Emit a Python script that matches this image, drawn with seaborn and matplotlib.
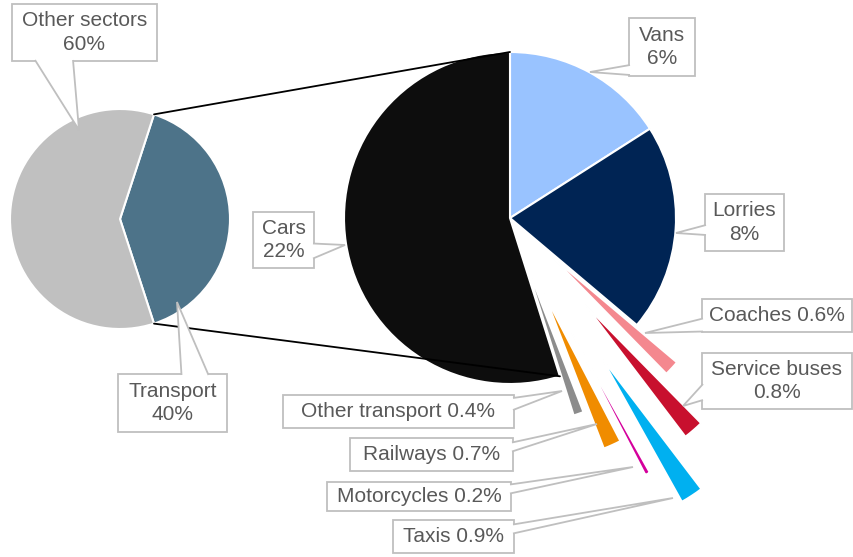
import numpy as np
import matplotlib
matplotlib.use("Agg")
import matplotlib.pyplot as plt
from matplotlib.patches import Rectangle, Polygon
import seaborn as sns

# Data: share of emissions (%)
sectors = ["Transport", "Other sectors"]
sector_share = [40, 60]
sector_colors = ["#4d7389", "#c0c0c0"]

modes = ["Vans", "Lorries", "Coaches", "Service buses", "Taxis",
         "Motorcycles", "Railways", "Other transport", "Cars"]
mode_share = [6.4, 8.1, 0.6, 0.8, 0.9, 0.2, 0.7, 0.4, 22]
mode_colors = ["#99c3ff", "#002454", "#f4888f", "#c8102e", "#00b0f0",
               "#d4009c", "#f08c00", "#8c8c8c", "#0d0d0d"]
# how far the small slices are pulled out (fraction of radius)
mode_explode = [0, 0, 0.33, 0.69, 1.0, 0.75, 0.5, 0.25, 0]
two_line = {"Vans", "Lorries", "Service buses", "Cars", "Transport", "Other sectors"}

W, H = 854, 557

# callout boxes in pixels (x0, x1, y0, y1), origin top-left
boxes = {
    "Other sectors": (12, 157, 4, 61),
    "Transport": (118, 227, 374, 432),
    "Vans": (629, 695, 18, 76),
    "Lorries": (705, 784, 194, 251),
    "Cars": (253, 314, 212, 268),
    "Coaches": (702, 852, 299, 332),
    "Service buses": (702, 852, 353, 409),
    "Other transport": (283, 514, 395, 428),
    "Railways": (350, 513, 438, 471),
    "Motorcycles": (327, 511, 482, 511),
    "Taxis": (393, 514, 520, 553),
}
# pointer: side of box, centre of base along that side, base width, tip
pointers = {
    "Other sectors": ("bottom", 54, 38, (79, 130)),
    "Transport": ("top", 195, 27, (177, 302)),
    "Vans": ("left", 70, 10, (590, 72)),
    "Lorries": ("left", 230, 10, (676, 233)),
    "Cars": ("right", 251, 15, (345, 245)),
    "Coaches": ("left", 325, 13, (645, 333)),
    "Service buses": ("left", 392, 16, (683, 406)),
    "Other transport": ("right", 404, 12, (562, 391)),
    "Railways": ("right", 447, 9, (597, 424)),
    "Motorcycles": ("right", 489, 9, (633, 467)),
    "Taxis": ("right", 529, 9, (673, 498)),
}


def px(x, y):
    # pixel position (origin top-left) -> data coords
    return (x, H - y)


def pct(v):
    return f"{v:.0f}%" if v >= 1 else f"{v:.1f}%"


sns.set_theme(style="white")
plt.rcParams["font.family"] = ["Liberation Sans", "DejaVu Sans"]

fig = plt.figure(figsize=(W / 100, H / 100), dpi=100)
ax = fig.add_axes([0, 0, 1, 1])

left_c, left_r = px(120, 219), 110
right_c, right_r = px(510, 218), 166

edge = dict(edgecolor="white", linewidth=1.5)
left_wedges, _ = ax.pie(sector_share, colors=sector_colors, startangle=72,
                        counterclock=False, center=left_c, radius=left_r,
                        wedgeprops=edge)
right_wedges, _ = ax.pie(mode_share, colors=mode_colors, startangle=90,
                         counterclock=False, center=right_c, radius=right_r,
                         explode=[e * right_r for e in mode_explode],
                         wedgeprops=edge)


def arc_point(c, r, ang):
    a = np.deg2rad(ang)
    return (c[0] + r * np.cos(a), c[1] + r * np.sin(a))


# lines joining the transport slice to the breakdown pie
tw = left_wedges[0]
p1 = arc_point(left_c, left_r, tw.theta2)
p2 = arc_point(left_c, left_r, tw.theta1)
q1 = arc_point(right_c, right_r, right_wedges[0].theta2)
q2 = arc_point(right_c, right_r, right_wedges[-1].theta2)
ax.plot([p1[0], q1[0]], [p1[1], q1[1]], color="black", lw=1.3, zorder=3)
ax.plot([p2[0], q2[0]], [p2[1], q2[1]], color="black", lw=1.3, zorder=3)

# callout labels
box_ec = "#bfbfbf"
names = sectors + modes
values = sector_share + mode_share
for name, val in zip(names, values):
    sep = "\n" if name in two_line else " "
    x0, x1, y0, y1 = boxes[name]
    ax.add_patch(Rectangle((x0, H - y1), x1 - x0, y1 - y0, fc="white",
                           ec=box_ec, lw=1.3, zorder=5))
    ax.text((x0 + x1) / 2, H - (y0 + y1) / 2, f"{name}{sep}{pct(val)}",
            ha="center", va="center", fontsize=15, color="#595959",
            linespacing=1.3, zorder=7)

    side, c, w, tip = pointers[name]
    if side == "left":
        b1, b2 = (x0 + 1, c - w / 2), (x0 + 1, c + w / 2)
    elif side == "right":
        b1, b2 = (x1 - 1, c - w / 2), (x1 - 1, c + w / 2)
    elif side == "top":
        b1, b2 = (c - w / 2, y0 + 1), (c + w / 2, y0 + 1)
    else:
        b1, b2 = (c - w / 2, y1 - 1), (c + w / 2, y1 - 1)
    ax.add_patch(Polygon([px(*b1), px(*tip), px(*b2)], closed=False,
                         fc="white", ec=box_ec, lw=1.3, zorder=6))

ax.set_xlim(0, W)
ax.set_ylim(0, H)
ax.set_aspect("equal")
ax.axis("off")

plt.savefig("out.png", dpi=100)
